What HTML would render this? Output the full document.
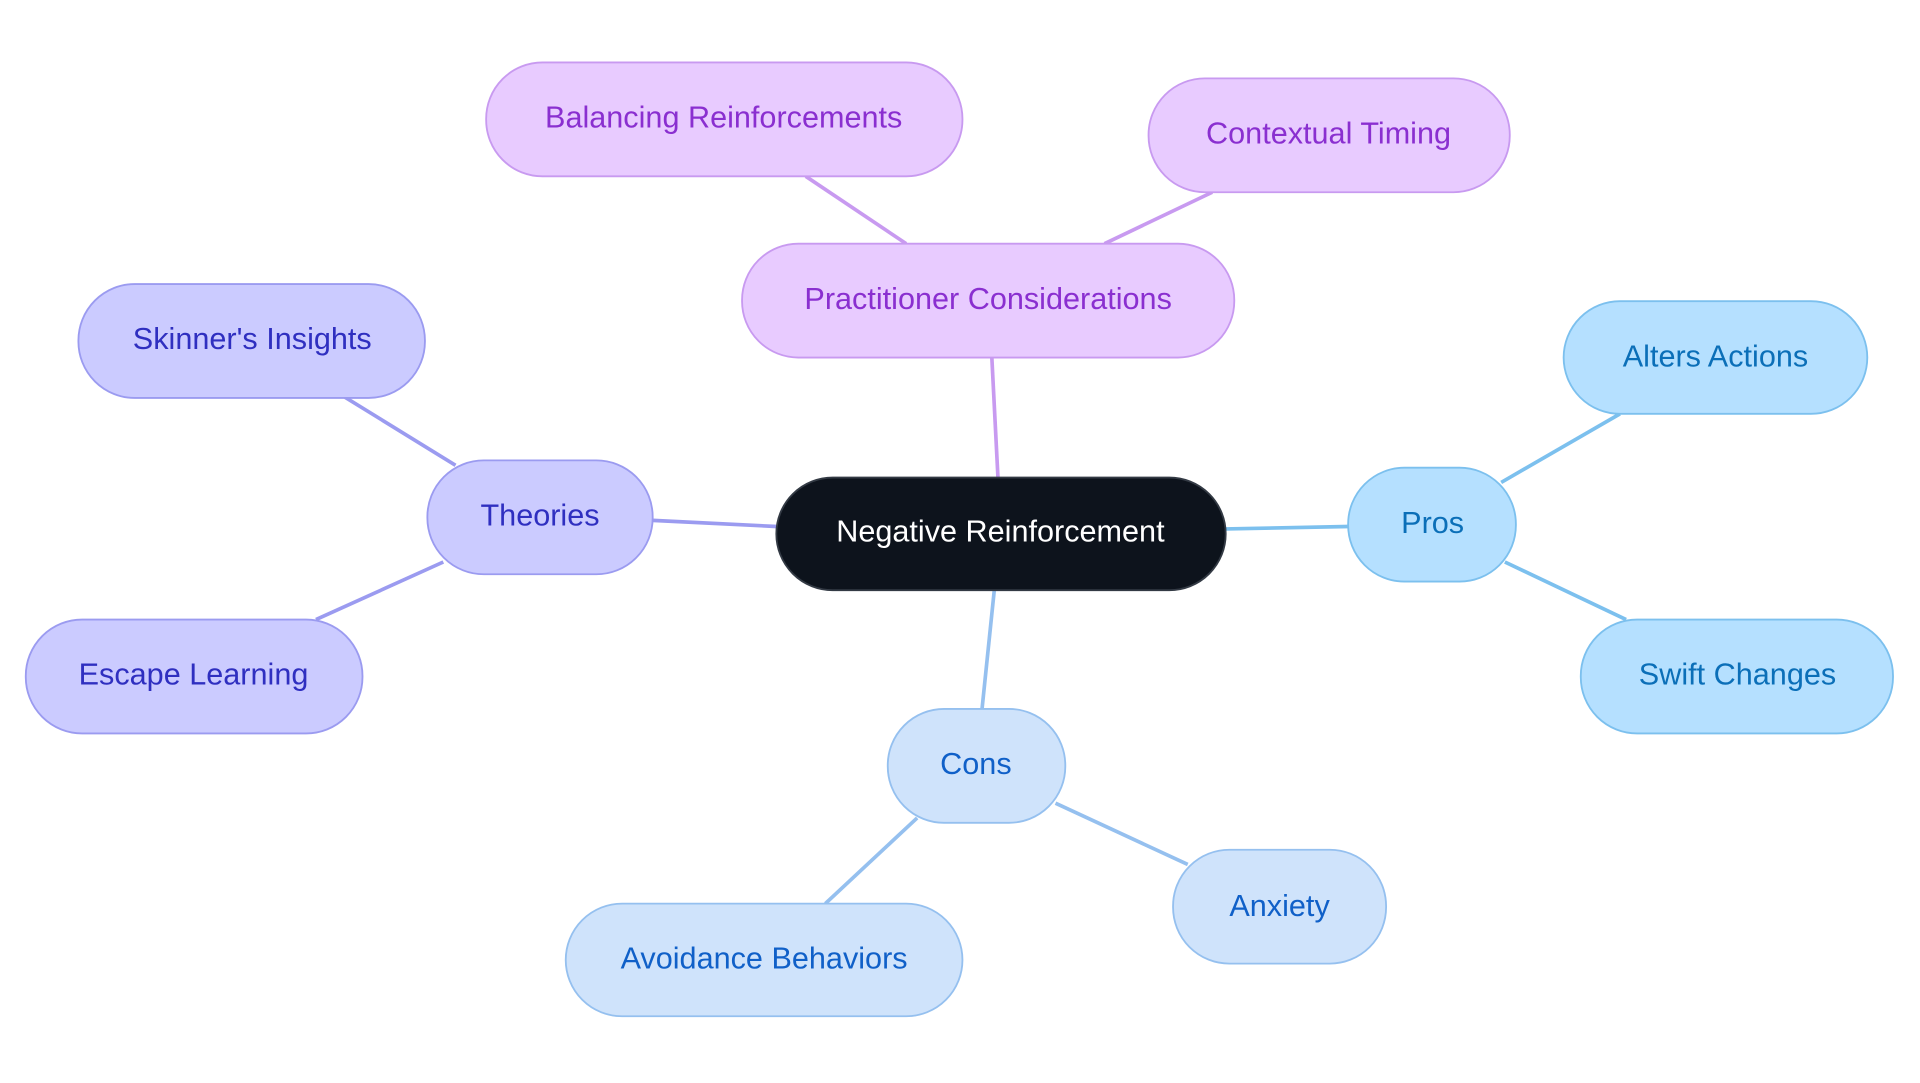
<!DOCTYPE html>
<html><head><meta charset="utf-8"><style>
html,body{margin:0;padding:0;background:#fff;}
svg{display:block;}
text{font-family:"Liberation Sans",sans-serif;font-size:25px;text-anchor:middle;dominant-baseline:central;}
</style></head><body>
<svg width="1920" height="1083" viewBox="0 0 1568 884.5" xmlns="http://www.w3.org/2000/svg">
<g stroke-width="3" fill="none">
<line x1="815" y1="390" x2="810" y2="292" stroke="#c89af0"/>
<line x1="740" y1="199" x2="658" y2="144" stroke="#c89af0"/>
<line x1="902" y1="199" x2="990" y2="157" stroke="#c89af0"/>
<line x1="634" y1="430" x2="533" y2="425" stroke="#9b9bf0"/>
<line x1="372" y1="380" x2="281" y2="324" stroke="#9b9bf0"/>
<line x1="362" y1="459" x2="258" y2="506" stroke="#9b9bf0"/>
<line x1="1001" y1="432" x2="1101" y2="430" stroke="#7cc0ee"/>
<line x1="1226" y1="394" x2="1323" y2="338" stroke="#7cc0ee"/>
<line x1="1229" y1="459" x2="1328" y2="506" stroke="#7cc0ee"/>
<line x1="812" y1="482" x2="802" y2="579" stroke="#95c0ef"/>
<line x1="749" y1="668" x2="674" y2="738" stroke="#95c0ef"/>
<line x1="862" y1="656" x2="970" y2="706" stroke="#95c0ef"/>
</g>
<g stroke-width="1.5">
<rect x="634" y="390" width="367" height="92" rx="46" fill="#0d131c" stroke="#333a44"/>
<rect x="606" y="199" width="402" height="93" rx="46" fill="#e8cbff" stroke="#c89af0"/>
<rect x="397" y="51" width="389" height="93" rx="46" fill="#e8cbff" stroke="#c89af0"/>
<rect x="938" y="64" width="295" height="93" rx="46" fill="#e8cbff" stroke="#c89af0"/>
<rect x="349" y="376" width="184" height="93" rx="46" fill="#cbcbff" stroke="#9b9bf0"/>
<rect x="64" y="232" width="283" height="93" rx="46" fill="#cbcbff" stroke="#9b9bf0"/>
<rect x="21" y="506" width="275" height="93" rx="46" fill="#cbcbff" stroke="#9b9bf0"/>
<rect x="1101" y="382" width="137" height="93" rx="46" fill="#b5e0ff" stroke="#7cc0ee"/>
<rect x="1277" y="246" width="248" height="92" rx="46" fill="#b5e0ff" stroke="#7cc0ee"/>
<rect x="1291" y="506" width="255" height="93" rx="46" fill="#b5e0ff" stroke="#7cc0ee"/>
<rect x="725" y="579" width="145" height="93" rx="46" fill="#cfe3fb" stroke="#95c0ef"/>
<rect x="462" y="738" width="324" height="92" rx="46" fill="#cfe3fb" stroke="#95c0ef"/>
<rect x="958" y="694" width="174" height="93" rx="46" fill="#cfe3fb" stroke="#95c0ef"/>
</g>
<text x="817" y="434" fill="#ffffff">Negative Reinforcement</text>
<g fill="#8a2fd0">
<text x="807" y="244">Practitioner Considerations</text>
<text x="591" y="96">Balancing Reinforcements</text>
<text x="1085" y="109">Contextual Timing</text>
</g>
<g fill="#2f2fc0">
<text x="441" y="421">Theories</text>
<text x="206" y="277">Skinner's Insights</text>
<text x="158" y="551">Escape Learning</text>
</g>
<g fill="#0b6fb8">
<text x="1170" y="427">Pros</text>
<text x="1401" y="291">Alters Actions</text>
<text x="1419" y="551">Swift Changes</text>
</g>
<g fill="#1060c8">
<text x="797" y="624">Cons</text>
<text x="624" y="783">Avoidance Behaviors</text>
<text x="1045" y="740">Anxiety</text>
</g>
</svg>
</body></html>
